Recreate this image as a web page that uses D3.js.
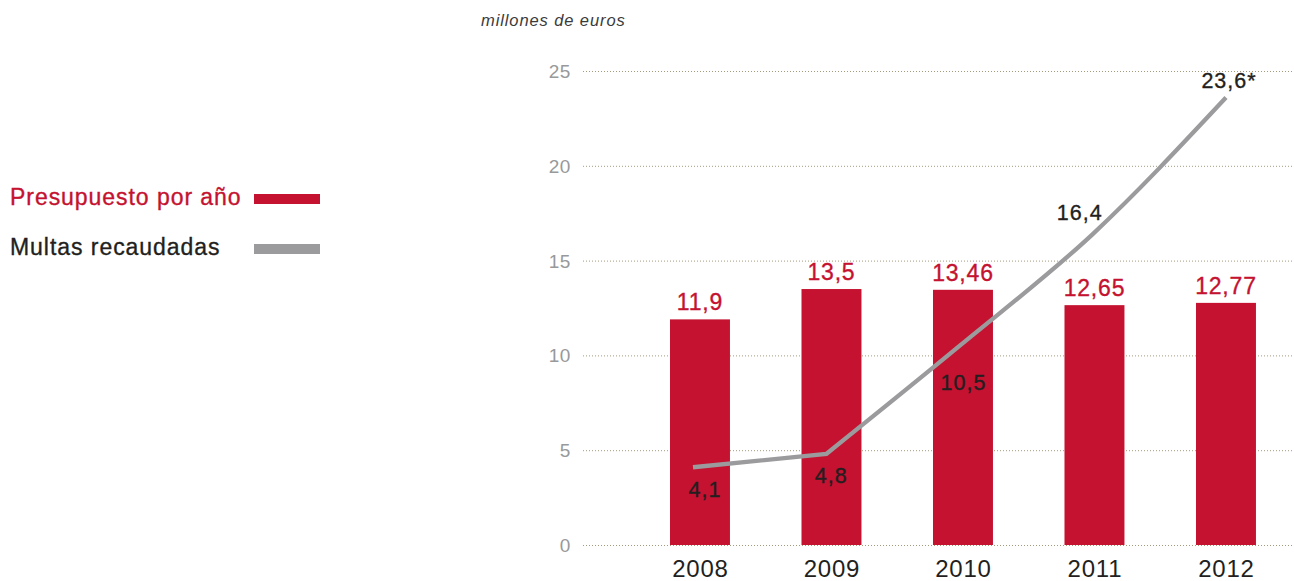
<!DOCTYPE html>
<html>
<head>
<meta charset="utf-8">
<script src="https://cdn.jsdelivr.net/npm/d3@7/dist/d3.min.js"></script>
<style>
  html, body { margin: 0; padding: 0; background: #fff; }
  svg { display: block; font-family: "Liberation Sans", Arial, Helvetica, sans-serif; }
</style>
</head>
<body>
<svg id="chart" width="1294" height="581"></svg>
<script>
// ---- Data ----
const years = ["2008", "2009", "2010", "2011", "2012"];
const presupuesto = [11.9, 13.5, 13.46, 12.65, 12.77];
const presupuestoLabels = ["11,9", "13,5", "13,46", "12,65", "12,77"];
const multas = [4.1, 4.8, 10.5, 16.4, 23.6];
const multasLabels = ["4,1", "4,8", "10,5", "16,4", "23,6*"];
const yTicks = [0, 5, 10, 15, 20, 25];
const legendLabels = ["Presupuesto por año", "Multas recaudadas"];
const unitLabel = "millones de euros";

// ---- Layout ----
const RED = "#c41230";
const GREY = "#9b9b9d";
const DARK = "#231f20";
const TICK = "#98999b";
const lineLabelOffsets = [[12, 30], [5, 29], [4, 44], [-13, -14], [3, -10]];

const svg = d3.select("#chart");

const y = d3.scaleLinear().domain([0, 25]).range([545, 71]);
const x = d3.scaleBand().domain(years).range([604.25, 1321.7])
  .paddingInner(0.544).paddingOuter(0.5);
const xLine = d3.scalePoint().domain(years).range([693, 1226]);

// gridlines
svg.append("g").selectAll("line").data(yTicks).join("line")
  .attr("x1", 583).attr("x2", 1294)
  .attr("y1", d => y(d) + 0.5).attr("y2", d => y(d) + 0.5)
  .attr("stroke", "#a39b7c").attr("stroke-width", 1)
  .attr("stroke-dasharray", "1,2");

// y tick labels
svg.append("g").selectAll("text").data(yTicks).join("text")
  .attr("x", 571).attr("y", d => y(d) + 7)
  .attr("text-anchor", "end")
  .attr("font-size", 19).attr("letter-spacing", 0.6).attr("fill", TICK)
  .text(d => d);

// unit label
svg.append("text").attr("x", 481).attr("y", 26)
  .attr("font-size", 16.5).attr("font-style", "italic").attr("letter-spacing", 0.9)
  .attr("fill", "#3b3b3b")
  .text(unitLabel);

// bars
svg.append("g").selectAll("rect").data(presupuesto).join("rect")
  .attr("x", (d, i) => x(years[i]))
  .attr("width", x.bandwidth())
  .attr("y", d => y(d))
  .attr("height", d => y(0) - y(d))
  .attr("fill", RED);

// bar labels
svg.append("g").selectAll("text").data(presupuesto).join("text")
  .attr("x", (d, i) => x(years[i]) + x.bandwidth() / 2)
  .attr("y", d => y(d) - 9)
  .attr("text-anchor", "middle")
  .attr("font-size", 23).attr("letter-spacing", 0.8)
  .attr("fill", RED).attr("stroke", RED).attr("stroke-width", 0.35)
  .text((d, i) => presupuestoLabels[i]);

// line: straight first segment, smooth afterwards
const lineLin = d3.line()
  .x(d => xLine(d.year)).y(d => y(d.v));
const lineSmooth = d3.line()
  .x(d => xLine(d.year)).y(d => y(d.v))
  .curve(d3.curveMonotoneX);
const pts = multas.map((v, i) => ({ year: years[i], v }));
const dPath = lineLin(pts.slice(0, 2)) + lineSmooth(pts.slice(1)).replace(/^M/, "L");
svg.append("path")
  .attr("d", dPath)
  .attr("fill", "none").attr("stroke", GREY).attr("stroke-width", 4.3)
  .attr("stroke-linejoin", "miter");

// line labels
svg.append("g").selectAll("text").data(multas).join("text")
  .attr("x", (d, i) => xLine(years[i]) + lineLabelOffsets[i][0])
  .attr("y", (d, i) => y(d) + lineLabelOffsets[i][1])
  .attr("text-anchor", "middle")
  .attr("font-size", 21.5).attr("letter-spacing", 1)
  .attr("fill", DARK).attr("stroke", DARK).attr("stroke-width", 0.35)
  .text((d, i) => multasLabels[i]);

// x axis labels
svg.append("g").selectAll("text").data(years).join("text")
  .attr("x", d => x(d) + x.bandwidth() / 2 + 0.5)
  .attr("y", 577)
  .attr("text-anchor", "middle")
  .attr("font-size", 24).attr("letter-spacing", 0.8)
  .attr("fill", DARK)
  .text(d => d);

// legend
const legend = svg.append("g");
const legendColors = [RED, GREY];
const legendTextColors = [RED, DARK];
legendLabels.forEach((lab, i) => {
  const cy = 199 + i * 50;
  legend.append("text").attr("x", 10).attr("y", cy + 6)
    .attr("font-size", 23).attr("letter-spacing", 0.95)
    .attr("fill", legendTextColors[i]).attr("stroke", legendTextColors[i]).attr("stroke-width", 0.35)
    .text(lab);
  legend.append("rect").attr("x", 254).attr("y", cy - 5)
    .attr("width", 66).attr("height", 10)
    .attr("fill", legendColors[i]);
});
</script>
</body>
</html>
